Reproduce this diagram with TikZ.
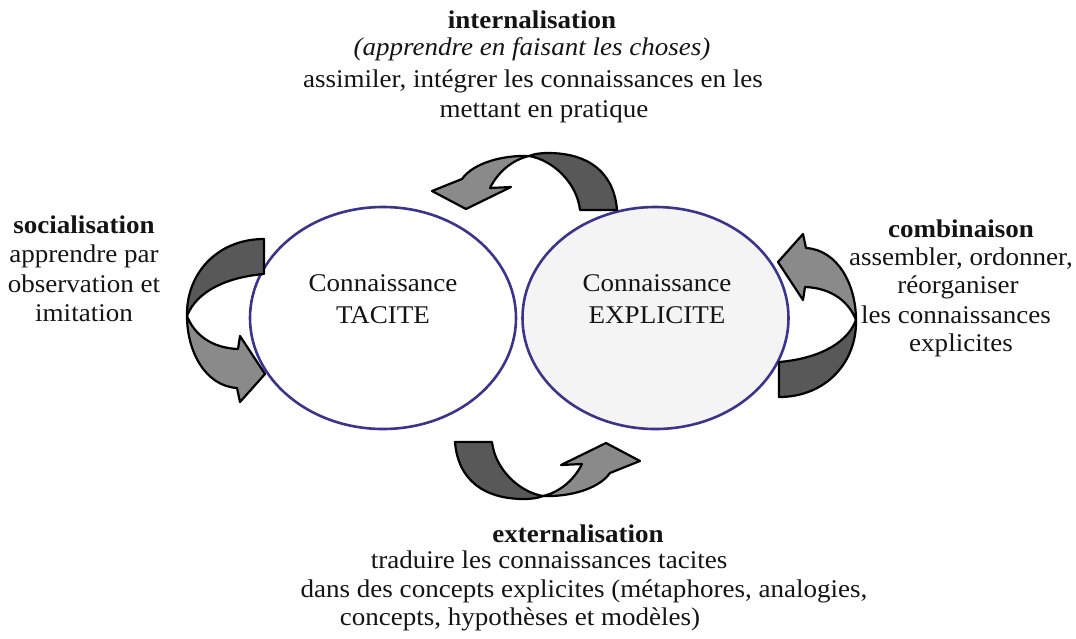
\documentclass[tikz,border=0pt]{standalone}
\usepackage{fontspec}
\setmainfont{Liberation Serif}[FakeStretch=1.06]
\usetikzlibrary{shapes.geometric}
\definecolor{ringblue}{RGB}{58,52,140}
\definecolor{backface}{RGB}{88,88,88}
\definecolor{frontface}{RGB}{138,138,138}
\definecolor{paleexp}{RGB}{244,244,244}
\definecolor{ink}{RGB}{20,20,20}

\tikzset{
  lbl/.style={anchor=base, inner sep=0pt, text=ink, font=\fontsize{25.5}{30}\selectfont},
  boldlbl/.style={lbl, font=\fontsize{25.5}{30}\selectfont\bfseries},
  itlbl/.style={lbl, font=\fontsize{25.5}{30}\selectfont\itshape},
  circ/.style={ellipse, draw=ringblue, line width=2.6pt, minimum width=266pt,
    minimum height=222pt, inner sep=0pt},
  band/.style={draw=black, line width=2.2pt, line join=round},
  backpart/.style={band, fill=backface},
  frontpart/.style={band, fill=frontface},
  % curved block arrow over the top: tail on the right, head down on the left
  toparrow/.pic={
    \path[backpart] (617,210) .. controls (614,172) and (588,153) .. (548,153)
      .. controls (540,153) and (534,154) .. (529,156)
      .. controls (553,160) and (577,183) .. (580,210) -- cycle;
    \path[frontpart] (529,156) .. controls (505,155) and (474,162) .. (462,179)
      -- (432,191) -- (466,209) -- (511,187) -- (490,188)
      .. controls (498,172) and (512,160) .. (529,156) -- cycle;
  },
  % curved block arrow on the right side: tail at the bottom, head left at the top
  sidearrow/.pic={
    \path[backpart] (856,320) .. controls (857,362) and (826,397) .. (779,397)
      -- (779,362) .. controls (814,359) and (846,346) .. (856,320) -- cycle;
    \path[frontpart] (856,320) .. controls (856,285) and (838,250) .. (806,248)
      -- (803,234) -- (778,262) -- (803,300) -- (805,287)
      .. controls (832,288) and (849,302) .. (856,320) -- cycle;
  }
}

\begin{document}
\begin{tikzpicture}[x=1pt,y=-1pt]
\useasboundingbox (0,0) rectangle (1076,638);

% the two kinds of knowledge
\node[circ, fill=white] (tacite) at (383,318) {};
\node[circ, fill=paleexp] (explicite) at (655.5,318) {};
\node[lbl] (tacite-a) at (383,291) {Connaissance};
\node[lbl] (tacite-b) at (383,323) {TACITE};
\node[lbl] (explicite-a) at (657,291) {Connaissance};
\node[lbl] (explicite-b) at (657,323) {EXPLICITE};

% the four conversion arrows; the lower and left ones are half-turns of the others
\pic at (0,0) {toparrow};
\pic[rotate=180] at (1072,652) {toparrow};
\pic at (0,0) {sidearrow};
\pic[rotate=180] at (1043,636) {sidearrow};

% internalisation
\node[boldlbl] (int-t) at (532,28) {internalisation};
\node[itlbl] (int-a) at (532,55) {(apprendre en faisant les choses)};
\node[lbl] (int-b) at (533,87) {assimiler, intégrer les connaissances en les};
\node[lbl] (int-c) at (544,117) {mettant en pratique};

% socialisation
\node[boldlbl] (soc-t) at (84,233) {socialisation};
\node[lbl] (soc-a) at (84,262) {apprendre par};
\node[lbl] (soc-b) at (84,292) {observation et};
\node[lbl] (soc-c) at (84,321) {imitation};

% combinaison
\node[boldlbl] (com-t) at (961,237) {combinaison};
\node[lbl] (com-a) at (961,265) {assembler, ordonner,};
\node[lbl] (com-b) at (958,293) {réorganiser};
\node[lbl] (com-c) at (956,323) {les connaissances};
\node[lbl] (com-d) at (961,351) {explicites};

% externalisation
\node[boldlbl] (ext-t) at (578,542) {externalisation};
\node[lbl] (ext-a) at (549,568) {traduire les connaissances tacites};
\node[lbl] (ext-b) at (584,597) {dans des concepts explicites (métaphores, analogies,};
\node[lbl] (ext-c) at (520,625) {concepts, hypothèses et modèles)};
\end{tikzpicture}
\end{document}
